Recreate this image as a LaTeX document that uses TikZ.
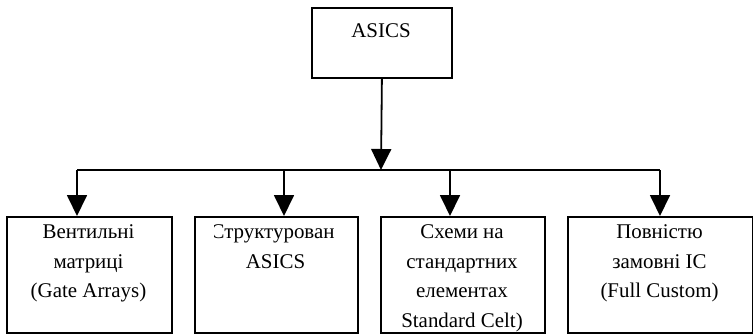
\documentclass[tikz,border=0pt]{standalone}
\usepackage{fontspec}
\setmainfont{Liberation Serif}
\usetikzlibrary{arrows.meta}
\begin{document}
\begin{tikzpicture}[x=1bp,y=-1bp,
  box/.style={draw, line width=1.8bp, inner sep=0pt, anchor=north west},
  lbl/.style={inner sep=0pt, anchor=north, align=center, font=\fontsize{21}{30}\selectfont},
  conn/.style={line width=1.8bp},
  arr/.style={line width=1.8bp, -{Triangle[width=20bp,length=21bp]}}]
\useasboundingbox (0,0) rectangle (753,334);
% boxes
\node[box, minimum width=140bp, minimum height=70bp] (top) at (311,7) {};
\node[box, minimum width=165bp, minimum height=116bp] (b1) at (6,216) {};
\node[box, minimum width=163bp, minimum height=116bp] (b2) at (194,216) {};
\node[box, minimum width=164bp, minimum height=116bp] (b3) at (380,216) {};
\node[box, minimum width=184.5bp, minimum height=116bp] (b4) at (567,216) {};
% texts
\node[lbl] (ttop) at (381,16) {\strut ASICS};
\node[lbl] (t1) at (88.5,217) {\strut Вентильні\\матриці\\(Gate Arrays)};
\begin{scope}
  \clip (214,205) rectangle (334.5,250);
  \node[lbl] (t2a) at (275.5,217) {\strut Структуровані};
\end{scope}
\node[lbl] (t2b) at (275.5,247) {\strut ASICS};
\node[lbl] (t3) at (462,217) {\strut Схеми на\\стандартних\\елементах\\Standard Celt)};
\node[lbl] (t4) at (659.5,217) {\strut Повністю\\замовні IC\\(Full Custom)};
% connectors
\coordinate (hub) at (381,170);
\coordinate (l1) at (77,170);
\coordinate (l2) at (284,170);
\coordinate (l3) at (450,170);
\coordinate (l4) at (660,170);
\draw[arr] (top.south) -- (hub);
\draw[conn] (l1) -- (l4);
\draw[arr] (l1) -- (l1 |- b1.north);
\draw[arr] (l2) -- (l2 |- b2.north);
\draw[arr] (l3) -- (l3 |- b3.north);
\draw[arr] (l4) -- (l4 |- b4.north);
\end{tikzpicture}
\end{document}
